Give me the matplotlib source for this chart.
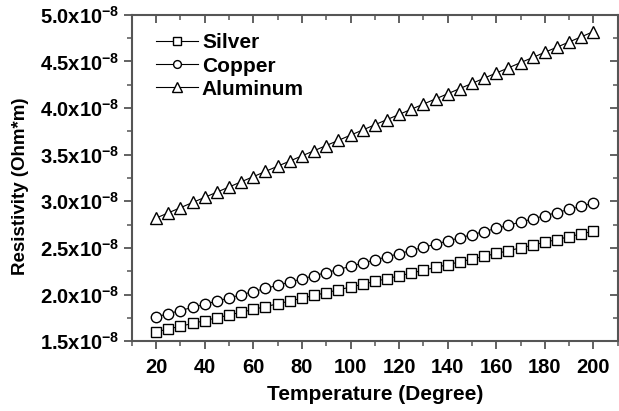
import matplotlib
matplotlib.use('Agg')
import matplotlib.pyplot as plt
from matplotlib.ticker import MultipleLocator, FuncFormatter

plt.rcParams['font.family'] = 'Liberation Sans'
plt.rcParams['font.weight'] = 'bold'
plt.rcParams['mathtext.fontset'] = 'custom'
plt.rcParams['mathtext.rm'] = 'Liberation Sans:bold'
plt.rcParams['mathtext.it'] = 'Liberation Sans:bold'
plt.rcParams['mathtext.bf'] = 'Liberation Sans:bold'
plt.rcParams['mathtext.default'] = 'regular'

# Data (resistivity in units of 1e-8 Ohm*m)
temperature = [20, 25, 30, 35, 40, 45, 50, 55, 60, 65, 70, 75, 80, 85, 90, 95, 100,
               105, 110, 115, 120, 125, 130, 135, 140, 145, 150, 155, 160, 165, 170,
               175, 180, 185, 190, 195, 200]
silver = [1.600, 1.630, 1.660, 1.690, 1.720, 1.750, 1.780, 1.810, 1.840, 1.870,
          1.900, 1.930, 1.960, 1.990, 2.020, 2.050, 2.080, 2.110, 2.140, 2.170,
          2.200, 2.230, 2.260, 2.290, 2.320, 2.350, 2.380, 2.410, 2.440, 2.470,
          2.500, 2.530, 2.560, 2.590, 2.620, 2.650, 2.680]
copper = [1.760, 1.794, 1.828, 1.862, 1.896, 1.929, 1.963, 1.997, 2.031, 2.065,
          2.099, 2.133, 2.167, 2.201, 2.235, 2.268, 2.302, 2.336, 2.370, 2.404,
          2.438, 2.472, 2.506, 2.540, 2.574, 2.608, 2.641, 2.675, 2.709, 2.743,
          2.777, 2.811, 2.845, 2.879, 2.913, 2.947, 2.980]
aluminum = [2.820, 2.876, 2.931, 2.987, 3.042, 3.098, 3.153, 3.209, 3.264, 3.320,
            3.376, 3.431, 3.487, 3.542, 3.598, 3.653, 3.709, 3.764, 3.820, 3.876,
            3.931, 3.987, 4.042, 4.098, 4.153, 4.209, 4.264, 4.320, 4.376, 4.431,
            4.487, 4.542, 4.598, 4.653, 4.709, 4.764, 4.820]

fig = plt.figure(figsize=(6.19, 4.11), dpi=100)
ax = fig.add_axes([0.213, 0.170, 0.785, 0.794])

ax.plot(temperature, silver, color='black', lw=0.8, marker='s', ms=7,
        mfc='white', mec='black', mew=1.0, label='Silver')
ax.plot(temperature, copper, color='black', lw=0.8, marker='o', ms=7.5,
        mfc='white', mec='black', mew=1.0, label='Copper')
ax.plot(temperature, aluminum, color='black', lw=0.8, marker='^', ms=9,
        mfc='white', mec='black', mew=1.0, label='Aluminum')

ax.set_xlim(10, 210)
ax.set_ylim(1.5, 5.0)
ax.xaxis.set_major_locator(MultipleLocator(20))
ax.xaxis.set_minor_locator(MultipleLocator(10))
ax.yaxis.set_major_locator(MultipleLocator(0.5))
ax.yaxis.set_minor_locator(MultipleLocator(0.25))
ax.yaxis.set_major_formatter(FuncFormatter(lambda v, p: f'{v:.1f}x10$^{{-8}}$'))

for s in ax.spines.values():
    s.set_color('#555555')
    s.set_linewidth(1.5)

ax.tick_params(axis='both', which='major', labelsize=14.5, length=6, width=1.3,
               color='#555555', labelcolor='black')
ax.tick_params(axis='both', which='minor', length=3.5, width=1.1, color='#555555')
ax.tick_params(axis='both', which='both', direction='out', top=False, right=False)
ax.tick_params(axis='y', which='major', pad=3)
ax.tick_params(axis='x', which='major', pad=6)

# mirror ticks pointing inward on top and right
ax_top = ax.secondary_xaxis('top')
ax_top.xaxis.set_major_locator(MultipleLocator(20))
ax_top.xaxis.set_minor_locator(MultipleLocator(10))
ax_top.tick_params(which='major', direction='in', length=6, width=1.3, color='#555555', labeltop=False)
ax_top.tick_params(which='minor', direction='in', length=3.5, width=1.1, color='#555555')
ax_top.spines['top'].set_visible(False)
ax_right = ax.secondary_yaxis('right')
ax_right.yaxis.set_major_locator(MultipleLocator(0.5))
ax_right.yaxis.set_minor_locator(MultipleLocator(0.25))
ax_right.tick_params(which='major', direction='in', length=6, width=1.3, color='#555555', labelright=False)
ax_right.tick_params(which='minor', direction='in', length=3.5, width=1.1, color='#555555')
ax_right.spines['right'].set_visible(False)

ax.set_xlabel('Temperature (Degree)', fontsize=15, fontweight='bold', labelpad=6)
ax.set_ylabel('Resistivity (Ohm*m)', fontsize=13.5, fontweight='bold')
ax.yaxis.set_label_coords(-0.212, 0.474)

leg = ax.legend(loc='upper left', bbox_to_anchor=(0.05, 0.943), frameon=False,
                fontsize=15, handlelength=2.0, handletextpad=0.2,
                labelspacing=0.2, markerscale=0.75, borderpad=0, borderaxespad=0)

fig.savefig('out.png', dpi=100, facecolor='white')
